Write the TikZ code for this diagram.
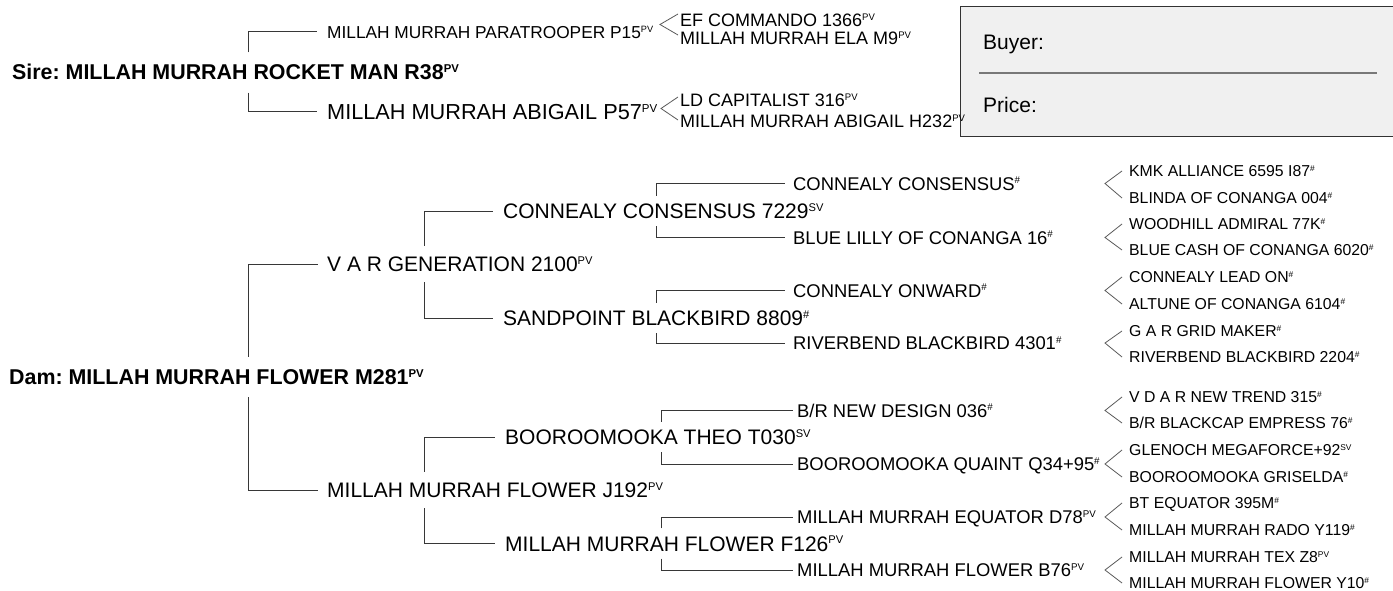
\documentclass[tikz,border=0pt]{standalone}
\usepackage{fontspec}
\setmainfont{Liberation Sans}
\usepackage{graphicx}
\frenchspacing
\definecolor{linegray}{RGB}{55, 55, 55}
\definecolor{forkgray}{RGB}{90, 90, 90}
\definecolor{boxfill}{RGB}{240, 240, 240}
\definecolor{boxrule}{RGB}{50, 50, 50}
\definecolor{rulegray}{RGB}{120, 120, 120}
\newcommand{\regmark}[1]{\raisebox{0.34em}{\scalebox{0.53}{#1}}}
\tikzset{
    headname/.style={anchor=west, font=\fontsize{21.4}{25}\selectfont\bfseries, text height=15pt, text depth=0pt, inner xsep=0pt, inner ysep=12.5pt},
    smallkid/.style={anchor=west, font=\fontsize{17.3}{20}\selectfont, inner xsep=10pt, inner ysep=2pt},
    bigkid/.style={anchor=west, font=\fontsize{21.7}{26}\selectfont, inner xsep=10pt, inner ysep=2pt},
    siregp/.style={anchor=west, font=\fontsize{18}{21}\selectfont, text height=13pt, text depth=0pt, inner xsep=2pt, inner ysep=1pt},
    gen1/.style={anchor=west, font=\fontsize{21}{25}\selectfont, text height=15pt, text depth=0pt, inner xsep=9pt, inner ysep=10.5pt},
    gen2/.style={anchor=west, font=\fontsize{21}{25}\selectfont, text height=15pt, text depth=0pt, inner xsep=10pt, inner ysep=7.5pt},
    gen3/.style={anchor=west, font=\fontsize{18.4}{22}\selectfont, text height=13.2pt, text depth=0pt, inner xsep=8pt, inner ysep=2pt},
    gen4/.style={anchor=west, font=\fontsize{15.8}{19}\selectfont, text height=11.3pt, text depth=0pt, inner xsep=7pt, inner ysep=1pt},
    boxlabel/.style={anchor=west, font=\fontsize{21}{25}\selectfont, text height=15pt, text depth=0pt, inner sep=0pt},
    link/.style={line width=1pt, color=linegray},
    fork/.style={line width=0.8pt, color=forkgray}
}
\begin{document}
\begin{tikzpicture}[x=1pt, y=-1pt]
    \useasboundingbox (0,0) rectangle (1393,591);

    \coordinate (b0) at (248,0);
    \coordinate (b1) at (424,0);
    \coordinate (b2) at (656.5,0);
    \coordinate (b2b) at (661,0);
    \coordinate (tx) at (1105,0);

    \draw[boxrule, fill=boxfill, line width=1pt] (960,7) rectangle (1400,137);
    \draw[rulegray, line width=1.5pt] (979,73) -- (1377,73);
    \node[boxlabel] (buyer) at (983,42) {Buyer:};
    \node[boxlabel] (price) at (983,105) {Price:};

    \node[headname] (sire) at (12,72.5) {Sire: MILLAH MURRAH ROCKET MAN R38\regmark{PV}};
    \node[smallkid] (sirep) at (317,32) {MILLAH MURRAH PARATROOPER P15\regmark{PV}};
    \node[bigkid] (sired) at (317,112) {MILLAH MURRAH ABIGAIL P57\regmark{PV}};
    \node[siregp] (spa) at (678,20) {EF COMMANDO 1366\regmark{PV}};
    \node[siregp] (spb) at (678,38.5) {MILLAH MURRAH ELA M9\regmark{PV}};
    \node[siregp] (sda) at (678,100.5) {LD CAPITALIST 316\regmark{PV}};
    \node[siregp] (sdb) at (678,121) {MILLAH MURRAH ABIGAIL H232\regmark{PV}};
    \coordinate (fs1) at (660,24.5);
    \coordinate (fs2) at (661,108.5);

    \draw[link] (sire.north -| b0) |- (sirep.west);
    \draw[link] (sire.south -| b0) |- (sired.west);
    \draw[fork] ([yshift=6pt]spa.west) -- (fs1) -- ([yshift=3.5pt]spb.west);
    \draw[fork] ([yshift=3.5pt]sda.west) -- (fs2) -- ([yshift=1pt]sdb.west);

    \node[headname] (dam) at (9,377) {Dam: MILLAH MURRAH FLOWER M281\regmark{PV}};
    \node[gen1] (varg) at (318,264) {V A R GENERATION 2100\regmark{PV}};
    \node[gen1] (mmj) at (318,490) {MILLAH MURRAH FLOWER J192\regmark{PV}};

    \node[gen2] (cons) at (493,211) {CONNEALY CONSENSUS 7229\regmark{SV}};
    \node[gen2] (sand) at (493,318) {SANDPOINT BLACKBIRD 8809\regmark{\#}};
    \node[gen2] (theo) at (495,437) {BOOROOMOOKA THEO T030\regmark{SV}};
    \node[gen2] (mmf) at (495,543.5) {MILLAH MURRAH FLOWER F126\regmark{PV}};

    \node[gen3] (cc) at (785,183.5) {CONNEALY CONSENSUS\regmark{\#}};
    \node[gen3] (blue) at (785,237.5) {BLUE LILLY OF CONANGA 16\regmark{\#}};
    \node[gen3] (onw) at (785,290.5) {CONNEALY ONWARD\regmark{\#}};
    \node[gen3] (riv) at (785,343) {RIVERBEND BLACKBIRD 4301\regmark{\#}};
    \node[gen3, inner xsep=4pt] (brnd) at (793,410.5) {B/R NEW DESIGN 036\regmark{\#}};
    \node[gen3, inner xsep=4pt] (quaint) at (793,464) {BOOROOMOOKA QUAINT Q34+95\regmark{\#}};
    \node[gen3, inner xsep=4pt] (equ) at (793,517) {MILLAH MURRAH EQUATOR D78\regmark{PV}};
    \node[gen3, inner xsep=4pt] (b76) at (793,570) {MILLAH MURRAH FLOWER B76\regmark{PV}};

    \node[gen4] (kmk) at (1122,171) {KMK ALLIANCE 6595 I87\regmark{\#}};
    \node[gen4] (blinda) at (1122,198) {BLINDA OF CONANGA 004\regmark{\#}};
    \node[gen4] (wood) at (1122,224) {WOODHILL ADMIRAL 77K\regmark{\#}};
    \node[gen4] (cash) at (1122,250) {BLUE CASH OF CONANGA 6020\regmark{\#}};
    \node[gen4] (lead) at (1122,277) {CONNEALY LEAD ON\regmark{\#}};
    \node[gen4] (altune) at (1122,304) {ALTUNE OF CONANGA 6104\regmark{\#}};
    \node[gen4] (gar) at (1122,331) {G A R GRID MAKER\regmark{\#}};
    \node[gen4] (rivb) at (1122,357) {RIVERBEND BLACKBIRD 2204\regmark{\#}};
    \node[gen4] (vdar) at (1122,397) {V D A R NEW TREND 315\regmark{\#}};
    \node[gen4] (brbe) at (1122,423) {B/R BLACKCAP EMPRESS 76\regmark{\#}};
    \node[gen4] (glen) at (1122,450) {GLENOCH MEGAFORCE+92\regmark{SV}};
    \node[gen4] (gris) at (1122,477) {BOOROOMOOKA GRISELDA\regmark{\#}};
    \node[gen4] (bteq) at (1122,503) {BT EQUATOR 395M\regmark{\#}};
    \node[gen4] (rado) at (1122,530) {MILLAH MURRAH RADO Y119\regmark{\#}};
    \node[gen4] (tex) at (1122,557) {MILLAH MURRAH TEX Z8\regmark{PV}};
    \node[gen4] (y10) at (1122,583) {MILLAH MURRAH FLOWER Y10\regmark{\#}};

    \draw[link] (dam.north -| b0) |- (varg.west);
    \draw[link] (dam.south -| b0) |- (mmj.west);
    \draw[link] (varg.north -| b1) |- (cons.west);
    \draw[link] (varg.south -| b1) |- (sand.west);
    \draw[link] (mmj.north -| b1) |- (theo.west);
    \draw[link] (mmj.south -| b1) |- (mmf.west);
    \draw[link] (cons.north -| b2) |- (cc.west);
    \draw[link] (cons.south -| b2) |- (blue.west);
    \draw[link] (sand.north -| b2) |- (onw.west);
    \draw[link] (sand.south -| b2) |- (riv.west);
    \draw[link] (theo.north -| b2b) |- (brnd.west);
    \draw[link] (theo.south -| b2b) |- (quaint.west);
    \draw[link] (mmf.north -| b2b) |- (equ.west);
    \draw[link] (mmf.south -| b2b) |- (b76.west);

    \draw[fork] (kmk.west) -- (cc.west -| tx) -- (blinda.west);
    \draw[fork] (wood.west) -- (blue.west -| tx) -- (cash.west);
    \draw[fork] (lead.west) -- (onw.west -| tx) -- (altune.west);
    \draw[fork] (gar.west) -- (riv.west -| tx) -- (rivb.west);
    \draw[fork] (vdar.west) -- (brnd.west -| tx) -- (brbe.west);
    \draw[fork] (glen.west) -- (quaint.west -| tx) -- (gris.west);
    \draw[fork] (bteq.west) -- (equ.west -| tx) -- (rado.west);
    \draw[fork] (tex.west) -- (b76.west -| tx) -- (y10.west);
\end{tikzpicture}
\end{document}
